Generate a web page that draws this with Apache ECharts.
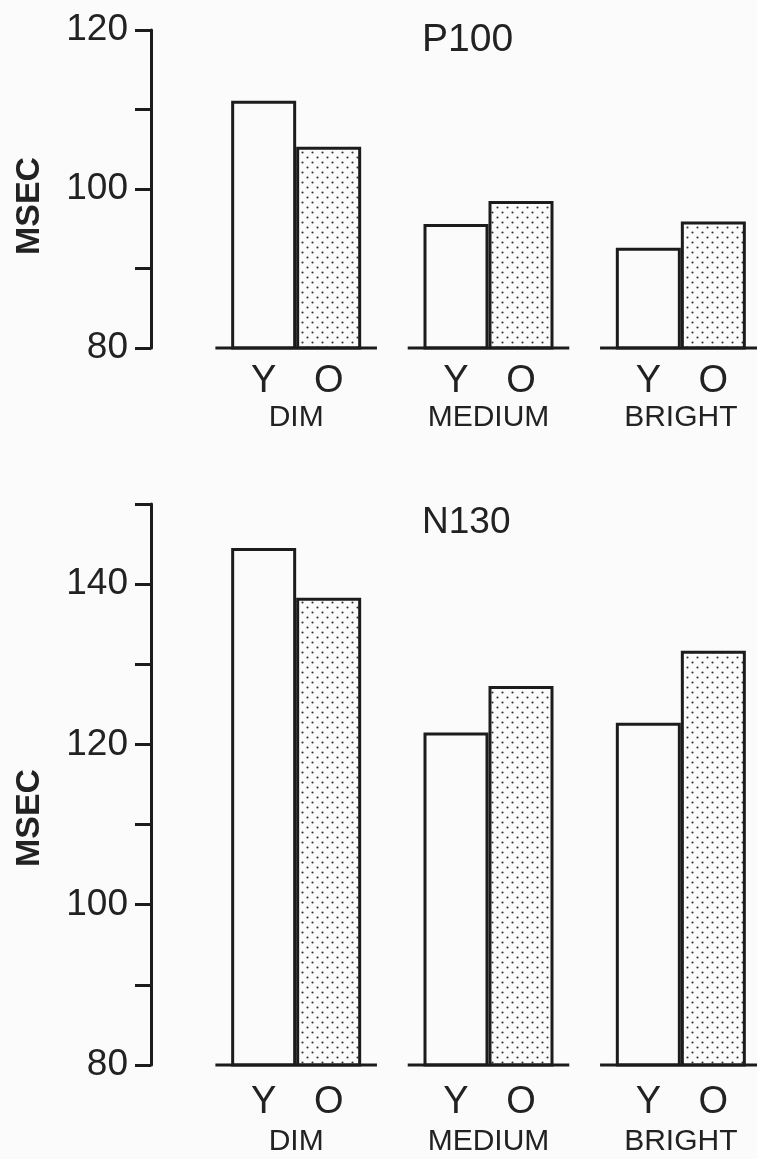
<!DOCTYPE html>
<html>
<head>
<meta charset="utf-8">
<script src="https://cdn.jsdelivr.net/npm/echarts@6/dist/echarts.min.js"></script>
<style>
html,body{margin:0;padding:0;background:#fbfbfb;overflow:hidden;width:757px;height:1159px;}
#chart{width:790px;height:1159px;}
</style>
</head>
<body>
<div id="chart"></div>
<script>
// ---- data ----
const categories = ['DIM', 'MEDIUM', 'BRIGHT'];
const groupNames = ['Y', 'O'];
const p100Young = [111.1, 95.6, 92.6];
const p100Old = [105.3, 98.5, 95.9];
const n130Young = [144.5, 121.5, 122.7];
const n130Old = [138.3, 127.3, 131.7];
const p100Range = [80, 120];
const n130Range = [80, 150];
const tickStep = 10;
const labelStep = 20;
const titles = ['P100', 'N130'];
const axisName = 'MSEC';

// ---- styles ----
const ink = '#1c1c1c';
const font = 'Liberation Sans, Arial, sans-serif';

const pc = document.createElement('canvas');
pc.width = 10; pc.height = 10;
const pctx = pc.getContext('2d');
pctx.fillStyle = '#fbfbfb';
pctx.fillRect(0, 0, 10, 10);
pctx.fillStyle = '#2e2e2e';
[[2.5, 2.5], [7.5, 7.5]].forEach(function (d) {
  pctx.beginPath(); pctx.arc(d[0], d[1], 1.05, 0, Math.PI * 2); pctx.fill();
});
const dotPattern = { image: pc, repeat: 'repeat' };

const chart = echarts.init(document.getElementById('chart'), null, { renderer: 'canvas' });

function yAxisOf(idx, range) {
  return {
    type: 'value', gridIndex: idx, min: range[0], max: range[1], interval: tickStep,
    position: 'left', offset: 49,
    axisLine: { show: true, lineStyle: { color: ink, width: 3 } },
    axisTick: { show: true, inside: false, length: 16, lineStyle: { color: ink, width: 3 } },
    axisLabel: {
      margin: 23, color: '#222', fontFamily: font, fontSize: 37,
      formatter: function (v) { return v % labelStep === 0 ? String(v) : ''; }
    },
    splitLine: { show: false }
  };
}
function xAxisOf(idx, margin) {
  return {
    type: 'category', gridIndex: idx, data: categories,
    axisLine: { show: false }, axisTick: { show: false },
    axisLabel: { margin: margin, color: '#222', fontFamily: font, fontSize: 30 }
  };
}
function barSeries(idx, name, values, fill, dist) {
  return {
    type: 'bar', name: name, xAxisIndex: idx, yAxisIndex: idx, data: values,
    barWidth: 65, barGap: '0%',
    itemStyle: { color: fill, borderColor: ink, borderWidth: 3 },
    label: {
      show: true, position: 'bottom', distance: dist, formatter: '{a}',
      color: '#222', fontFamily: font, fontSize: 38
    },
    emphasis: { disabled: true }, z: 2
  };
}
function baseSeries(idx, range) {
  return {
    type: 'custom', xAxisIndex: idx, yAxisIndex: idx,
    data: categories.map(function (c, i) { return [i, range[0]]; }),
    renderItem: function (params, api) {
      const p = api.coord([api.value(0), api.value(1)]);
      const bw = api.size([1, 0])[0];
      return {
        type: 'line',
        shape: { x1: p[0] - bw * 0.42, y1: p[1], x2: p[0] + bw * 0.42, y2: p[1] },
        style: { stroke: ink, lineWidth: 3 }
      };
    },
    silent: true, z: 3
  };
}

const option = {
  backgroundColor: '#fbfbfb',
  animation: false,
  title: [
    { text: titles[0], left: 422, top: 21, padding: 0,
      textStyle: { fontFamily: font, fontSize: 39, fontWeight: 'normal', color: '#222' } },
    { text: titles[1], left: 422, top: 504, padding: 0,
      textStyle: { fontFamily: font, fontSize: 37, fontWeight: 'normal', color: '#222' } }
  ],
  grid: [
    { left: 200, top: 30, width: 577, height: 318 },
    { left: 200, top: 504, width: 577, height: 561 }
  ],
  xAxis: [xAxisOf(0, 55), xAxisOf(1, 62)],
  yAxis: [yAxisOf(0, p100Range), yAxisOf(1, n130Range)],
  graphic: [
    { type: 'text', x: 30, y: 206, rotation: Math.PI / 2,
      style: { text: axisName, fontFamily: font, fontSize: 34, fontWeight: 'bold', fill: '#222',
        align: 'center', verticalAlign: 'middle' } },
    { type: 'text', x: 30, y: 818, rotation: Math.PI / 2,
      style: { text: axisName, fontFamily: font, fontSize: 34, fontWeight: 'bold', fill: '#222',
        align: 'center', verticalAlign: 'middle' } }
  ],
  series: [
    barSeries(0, groupNames[0], p100Young, '#fbfbfb', 13),
    barSeries(0, groupNames[1], p100Old, dotPattern, 13),
    baseSeries(0, p100Range),
    barSeries(1, groupNames[0], n130Young, '#fbfbfb', 17),
    barSeries(1, groupNames[1], n130Old, dotPattern, 17),
    baseSeries(1, n130Range)
  ]
};
chart.setOption(option);
</script>
</body>
</html>
